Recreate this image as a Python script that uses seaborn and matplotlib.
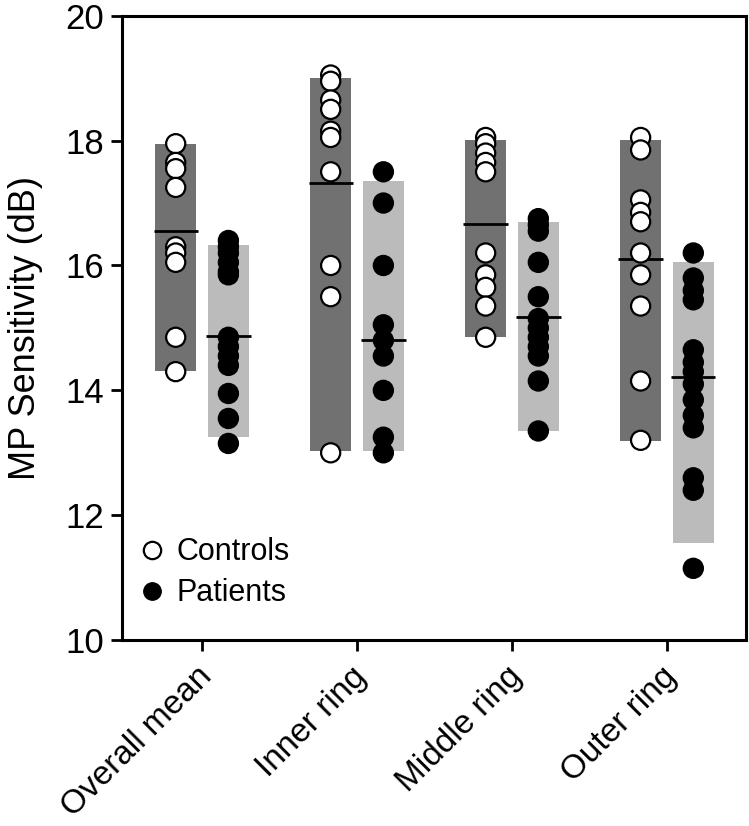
import numpy as np
import pandas as pd
import matplotlib
matplotlib.use("Agg")
import matplotlib.pyplot as plt
import matplotlib.transforms as mtransforms
import seaborn as sns
from matplotlib.lines import Line2D

# regions on the x axis
regions = ["Overall mean", "Inner ring", "Middle ring", "Outer ring"]

# individual sensitivities (dB)
ctrl_overall = [17.95, 17.65, 17.55, 17.25, 16.3, 16.2, 16.05, 14.85, 14.3]
pat_overall = [16.4, 16.3, 16.2, 16.05, 15.9, 15.85, 14.85, 14.7, 14.55, 14.4, 13.95, 13.55, 13.15]
ctrl_inner = [19.05, 18.95, 18.65, 18.5, 18.15, 18.05, 17.5, 16.0, 15.5, 13.0]
pat_inner = [17.5, 17.0, 16.0, 15.05, 14.8, 14.55, 14.0, 13.25, 13.0]
ctrl_middle = [18.05, 17.95, 17.8, 17.65, 17.5, 16.2, 15.85, 15.65, 15.35, 14.85]
pat_middle = [16.75, 16.65, 16.55, 16.05, 15.5, 15.15, 15.0, 14.85, 14.7, 14.55, 14.15, 13.35]
ctrl_outer = [18.05, 17.85, 17.05, 16.85, 16.7, 16.2, 15.85, 15.35, 14.15, 13.2]
pat_outer = [16.2, 15.8, 15.6, 15.45, 14.65, 14.45, 14.3, 14.1, 13.85, 13.6, 13.4, 12.6, 12.4, 11.15]

# shaded range (low / high) and mean line per region
ctrl_low = [14.31, 13.03, 14.85, 13.19]
ctrl_high = [17.94, 19.01, 18.01, 18.01]
ctrl_mean = [16.55, 17.32, 16.66, 16.11]
pat_low = [13.26, 13.03, 13.35, 11.55]
pat_high = [16.32, 17.35, 16.69, 16.06]
pat_mean = [14.87, 14.81, 15.17, 14.21]

controls = [ctrl_overall, ctrl_inner, ctrl_middle, ctrl_outer]
patients = [pat_overall, pat_inner, pat_middle, pat_outer]

rows = []
for i, name in enumerate(regions):
    for v in controls[i]:
        rows.append((name, "Controls", v))
    for v in patients[i]:
        rows.append((name, "Patients", v))
df = pd.DataFrame(rows, columns=["Region", "Group", "dB"])

offsets = {"Controls": -0.17, "Patients": 0.17}
df["xpos"] = df["Region"].map(regions.index) + df["Group"].map(offsets)

sns.set_theme(style="ticks")
plt.rcParams["font.family"] = ["Liberation Sans", "DejaVu Sans"]
plt.rcParams["text.color"] = "black"
plt.rcParams["axes.labelcolor"] = "black"
plt.rcParams["xtick.color"] = "black"
plt.rcParams["ytick.color"] = "black"

fig, ax = plt.subplots(figsize=(7.49, 8.26), dpi=100)
fig.subplots_adjust(left=0.163, right=0.996, top=0.981, bottom=0.225)

pos = np.arange(len(regions))
ranges = [("Controls", ctrl_low, ctrl_high, ctrl_mean, "#717171"),
          ("Patients", pat_low, pat_high, pat_mean, "#bbbbbb")]
for grp, lo, hi, mn, col in ranges:
    x = pos + offsets[grp]
    ax.bar(x, np.array(hi) - np.array(lo), bottom=lo, width=0.265,
           color=col, linewidth=0, zorder=1)
    ax.hlines(mn, x - 0.143, x + 0.143, color="black", lw=2, zorder=2)

sns.scatterplot(data=df, x="xpos", y="dB", hue="Group",
                palette={"Controls": "white", "Patients": "black"},
                edgecolor="black", linewidth=1.6, s=190, ax=ax,
                zorder=3, legend=False)

ax.set_xlim(-0.516, 3.51)
ax.set_ylim(10, 20)
ax.set_yticks(np.arange(10, 21, 2))
ax.set_xticks(pos)
ax.set_xticklabels(regions, rotation=45, ha="right", rotation_mode="anchor",
                   fontsize=24)
ax.tick_params(axis="y", labelsize=25)
ax.tick_params(length=8, width=2, direction="out", pad=5)
ax.set_xlabel("")
ax.set_ylabel("MP Sensitivity (dB)", fontsize=26, labelpad=16)
for sp in ax.spines.values():
    sp.set_linewidth(2.2)
    sp.set_color("black")

# nudge rotated labels left like the original
shift = mtransforms.ScaledTranslation(-6 / 100, -3 / 100, fig.dpi_scale_trans)
for lab in ax.get_xticklabels():
    lab.set_transform(lab.get_transform() + shift)

handles = [Line2D([], [], marker="o", ls="", markerfacecolor="white",
                  markeredgecolor="black", markeredgewidth=1.6, markersize=12.5),
           Line2D([], [], marker="o", ls="", markerfacecolor="black",
                  markeredgecolor="black", markersize=12.5)]
ax.legend(handles, ["Controls", "Patients"], loc="lower left",
          bbox_to_anchor=(0.024, 0.051), frameon=False, fontsize=22,
          handlelength=1.0, handletextpad=0.3, labelspacing=0.36,
          borderpad=0, borderaxespad=0)

fig.savefig("out.png", dpi=100)
